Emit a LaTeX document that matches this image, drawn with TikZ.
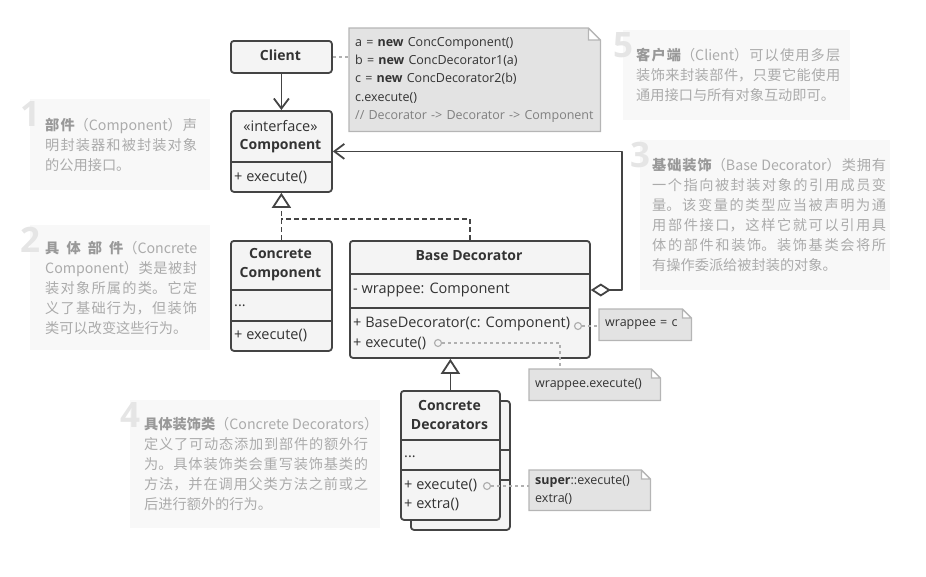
\documentclass[tikz,border=0pt]{standalone}
\usepackage{fontspec}
\setmainfont{Open Sans}
\newfontfamily\cjk{Noto Sans CJK SC}
\usetikzlibrary{arrows.meta, backgrounds}
\definecolor{linec}{HTML}{444444}
\definecolor{textc}{HTML}{333333}
\definecolor{commc}{HTML}{808080}
\definecolor{boxc}{HTML}{F4F4F4}
\definecolor{notec}{HTML}{E3E3E3}
\definecolor{notel}{HTML}{B5B5B5}
\definecolor{linkc}{HTML}{B0B0B0}
\definecolor{infoc}{HTML}{F8F8F8}
\definecolor{infot}{HTML}{ABABAB}
\definecolor{infob}{HTML}{999999}
\definecolor{infon}{HTML}{E5E5E5}
\newcommand\zhsetup{\XeTeXlinebreaklocale "zh"\XeTeXlinebreakskip=0pt plus 4pt minus .5pt\relax\hyphenpenalty=10000\relax}

\begin{document}
\begin{tikzpicture}[x=1pt, y=-1pt, line join=round,
  cls/.style={draw=linec, fill=boxc, line width=1.8pt, rounded corners=3pt, anchor=north west, inner sep=0pt},
  ttl/.style={font=\fontsize{14}{19}\selectfont\bfseries, text=textc, inner sep=0pt},
  mem/.style={font=\fontsize{14.5}{19}\selectfont, text=textc, anchor=west, inner sep=0pt},
  sep/.style={draw=linec, line width=1.8pt},
  port/.style={circle, draw=linkc, fill=boxc, line width=1.2pt, minimum size=7pt, inner sep=0pt},
  notebox/.style={anchor=north west, align=left, inner xsep=6pt, inner ysep=0pt, font=\fontsize{12.5}{18.3}\selectfont, text=textc},
  noteline/.style={draw=notel, fill=notec, line width=1.3pt},
  link/.style={draw=linkc, line width=1.3pt, dash pattern=on 3pt off 3pt},
  use/.style={draw=linec, line width=1.8pt, -{Straight Barb[length=10pt, width=15pt]}},
  realize/.style={draw=linec, line width=1.8pt, dash pattern=on 5pt off 3pt},
  inherit/.style={draw=linec, line width=1.8pt, -{Triangle[length=15pt, width=19pt, fill=white]}},
  aggr/.style={draw=linec, line width=1.8pt, {Diamond[length=20pt, width=13pt, fill=white]}-{Straight Barb[length=10pt, width=15pt]}},
  infobox/.style={fill=infoc, anchor=north west, inner sep=0pt},
  infotext/.style={anchor=west, align=justify, inner sep=0pt, text=infot,
    font={\cjk\fontsize{14.2}{20}\selectfont\zhsetup}},
  infonum/.style={anchor=base west, inner sep=0pt, text=infon, font=\fontsize{35}{35}\selectfont\bfseries}]
  \useasboundingbox (0,0) rectangle (926,576);

  \node[infobox, minimum width=180pt, minimum height=91pt] (b1) at (30,99) {};
  \node[infonum] (n1) at ([xshift=-10, yshift=-27]b1.north west) {1};
  \node[infotext, text width=152pt] (t1) at ([xshift=15]b1.west)
    {{\color{infob}\bfseries 部件}（Component）声\linebreak 明封装器和被封装对象\linebreak 的公用接口。};

  \node[infobox, minimum width=180pt, minimum height=125pt] (b2) at (30,225) {};
  \node[infonum] (n2) at ([xshift=-10, yshift=-27]b2.north west) {2};
  \node[infotext, text width=152pt] (t2) at ([xshift=15]b2.west)
    {{\color{infob}\bfseries 具体部件}（Concrete\linebreak Component）类是被封\linebreak 装对象所属的类。它定\linebreak 义了基础行为，但装饰\linebreak 类可以改变这些行为。};

  \node[infobox, minimum width=227pt, minimum height=90pt] (b5) at (623,30) {};
  \node[infonum] (n5) at ([xshift=-10, yshift=-27]b5.north west) {5};
  \node[infotext, text width=204pt] (t5) at ([xshift=13]b5.west)
    {{\color{infob}\bfseries 客户端}（Client）可以使用多层\linebreak 装饰来封装部件，只要它能使用\linebreak 通用接口与所有对象互动即可。};

  \node[infobox, minimum width=250pt, minimum height=150pt] (b3) at (640,140) {};
  \node[infonum] (n3) at ([xshift=-10, yshift=-27]b3.north west) {3};
  \node[infotext, text width=234pt] (t3) at ([xshift=12]b3.west)
    {{\color{infob}\bfseries 基础装饰}（Base Decorator）类拥有\linebreak 一个指向被封装对象的引用成员变\linebreak 量。该变量的类型应当被声明为通\linebreak 用部件接口，这样它就可以引用具\linebreak 体的部件和装饰。装饰基类会将所\linebreak 有操作委派给被封装的对象。};

  \node[infobox, minimum width=250pt, minimum height=128pt] (b4) at (130,400) {};
  \node[infonum] (n4) at ([xshift=-10, yshift=-27]b4.north west) {4};
  \node[infotext, text width=224pt] (t4) at ([xshift=14]b4.west)
    {\mbox{{\color{infob}\bfseries 具体装饰类}（Concrete Decorators）}\linebreak 定义了可动态添加到部件的额外行\linebreak 为。具体装饰类会重写装饰基类的\linebreak 方法，并在调用父类方法之前或之\linebreak 后进行额外的行为。};

  \node[cls, minimum width=101pt, minimum height=32pt] (client) at (230,40) {};
  \node[ttl] (clientT) at (280.5,55) {Client};

  \node[cls, minimum width=101pt, minimum height=81pt] (comp) at (230,110) {};
  \node[mem, anchor=center] (compS) at (280.5,126) {«interface»};
  \node[ttl] (compT) at (280.5,146) {Component};
  \node[mem] (compM) at (234,177) {+ execute()};

  \node[cls, minimum width=101pt, minimum height=110pt] (ccomp) at (230,240) {};
  \node[ttl, align=center] (ccompT) at (280.5,264.5) {Concrete\\Component};
  \node[mem] (ccompF) at (234,306) {...};
  \node[mem] (ccompM) at (234,335) {+ execute()};

  \node[cls, minimum width=240pt, minimum height=117pt] (bdec) at (349,240) {};
  \node[ttl] (bdecT) at (469,256) {Base Decorator};
  \node[mem] (wrap) at (353,290) {- wrappee: Component};
  \node[mem] (bdecC) at (353,324) {+ BaseDecorator(c: Component)};
  \node[mem] (bdecM) at (353,343) {+ execute()};

  \node[cls, minimum width=99pt, minimum height=129pt] (cdecB) at (410,400) {};
  \foreach \y in {450, 480}
    \draw[sep] (cdecB.west |- 0,\y) -- (cdecB.east |- 0,\y);
  \node[cls, minimum width=99pt, minimum height=129pt] (cdec) at (400,390) {};
  \node[ttl, align=center] (cdecT) at (449.5,414.5) {Concrete\\Decorators};
  \node[mem] (cdecF) at (404,457) {...};
  \node[mem] (cdecM) at (404,485) {+ execute()};
  \node[mem] (cdecX) at (404,504) {+ extra()};

  \foreach \b/\y in {comp/162, ccomp/290, ccomp/321, bdec/274, bdec/308, cdec/440, cdec/470}
    \draw[sep] (\b.west |- 0,\y) -- (\b.east |- 0,\y);

  \node[port] (p1) at (578,326) {};
  \node[port] (p2) at (438,343) {};
  \node[port] (p3) at (487,486) {};

  \node[notebox, text width=239pt, minimum height=103pt] (code) at (349,28)
    {a = \textbf{new} ConcComponent()\\ b = \textbf{new} ConcDecorator1(a)\\ c = \textbf{new} ConcDecorator2(b)\\ c.execute()\\ {\color{commc}// Decorator -> Decorator -> Component}};
  \node[notebox, text width=80pt, minimum height=31pt] (wrc) at (599,309) {wrappee = c};
  \node[notebox, text width=119pt, minimum height=31pt] (wre) at (529,369) {wrappee.execute()};
  \node[notebox, text width=109pt, minimum height=40pt] (sup) at (529,470) {\textbf{super}::execute()\\ extra()};

  \begin{scope}[on background layer]
    \foreach \n/\f in {code/12, wrc/9, wre/9, sup/9}
      \draw[noteline] (\n.north west) -- ([xshift=-\f]\n.north east) -- ([yshift=-\f]\n.north east) -- (\n.south east) -- (\n.south west) -- cycle
        ([xshift=-\f]\n.north east) |- ([yshift=-\f]\n.north east);
  \end{scope}

  \draw[use] (client) -- (comp);
  \draw[inherit, realize] (ccomp) -- (comp);
  \coordinate (fork) at (280.5,219);
  \draw[realize] (bdec.north) |- (fork);
  \draw[inherit] (cdec) -- (cdec |- bdec.south);
  \draw[aggr] (bdec.east |- wrap) -- ++(31,0) |- (comp);

  \draw[link] (client) -- (client -| code.west);
  \draw[link] (p1) -- (p1 -| wrc.west);
  \draw[link] (p2) -| ([xshift=31]wre.north west);
  \draw[link] (p3) -- (p3 -| sup.west);
\end{tikzpicture}
\end{document}
